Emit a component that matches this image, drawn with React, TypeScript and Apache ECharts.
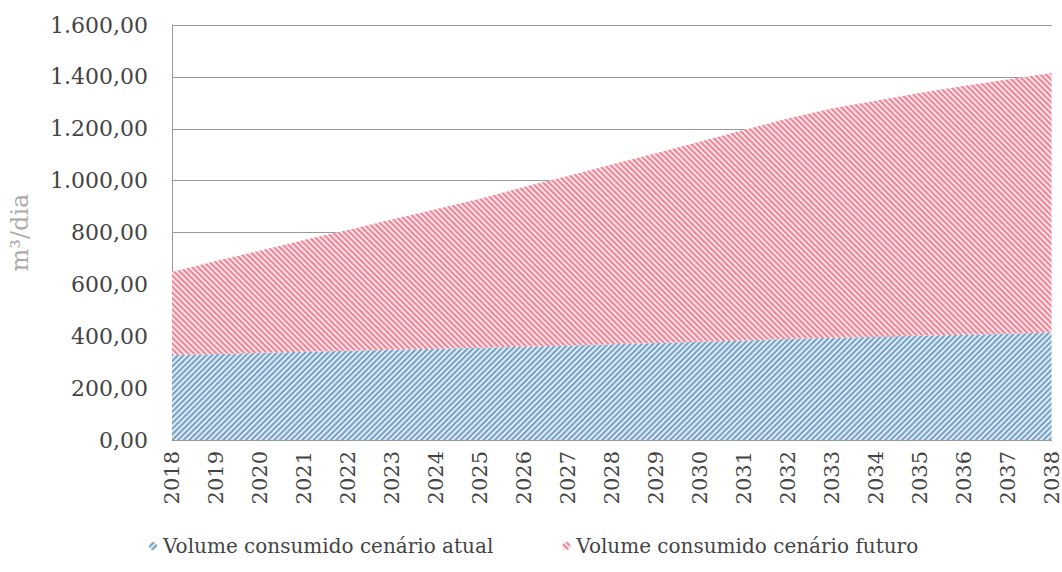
import React, { useEffect, useRef } from "react";
import * as echarts from "echarts";

const years = ["2018","2019","2020","2021","2022","2023","2024","2025","2026","2027","2028","2029","2030","2031","2032","2033","2034","2035","2036","2037","2038"];
const atual = [328,332,336,340,344,348,352,356,360,364,369,374,379,384,389,394,398,402,406,410,414];
const futuro = [320,358,394,431,466,502,538,574,615,654,693,732,771,811,851,884,910,936,959,980,1001];
const seriesNames = ["Volume consumido cenário atual", "Volume consumido cenário futuro"];
const yTicks = { min: 0, max: 1600, interval: 200 };

const FONT = "'DejaVu Serif', serif";

function fmt(v: number): string {
  const s = v.toFixed(2);
  const [i, d] = s.split(".");
  return i.replace(/\B(?=(\d{3})+(?!\d))/g, ".") + "," + d;
}

export default function App() {
  const ref = useRef<HTMLDivElement>(null);
  useEffect(() => {
    if (!ref.current) return;
    const chart = echarts.init(ref.current, undefined, { renderer: "svg" });
    chart.setOption({
      animation: false,
      backgroundColor: "#ffffff",
      grid: { left: 170, right: 10, top: 25, bottom: 132 },
      legend: {
        bottom: 11,
        left: 143,
        itemWidth: 10,
        itemHeight: 10,
        itemGap: 68,
        textStyle: { fontFamily: FONT, fontSize: 20, color: "#444" },
        data: seriesNames,
      },
      xAxis: {
        type: "category",
        data: years,
        boundaryGap: false,
        axisLine: { lineStyle: { color: "#999" } },
        axisTick: { show: false },
        axisLabel: { rotate: 90, interval: 0, margin: 11, fontFamily: FONT, fontSize: 21, color: "#444" },
      },
      yAxis: {
        type: "value",
        min: yTicks.min,
        max: yTicks.max,
        interval: yTicks.interval,
        name: "m³/dia",
        nameLocation: "middle",
        nameGap: 140,
        nameTextStyle: { fontFamily: FONT, fontSize: 24, color: "#aaa" },
        axisLine: { show: true, lineStyle: { color: "#999" } },
        axisTick: { show: false },
        splitLine: { lineStyle: { color: "#999" } },
        axisLabel: { margin: 24, fontFamily: FONT, fontSize: 22, color: "#444", formatter: (v: number) => fmt(v) },
      },
      series: [
        {
          name: seriesNames[0],
          type: "line",
          stack: "total",
          data: atual,
          symbol: "none",
          lineStyle: { width: 0 },
          areaStyle: { color: "#d9eef4", opacity: 1 },
          itemStyle: {
            color: "#d9eef4",
            decal: { symbol: "rect", symbolSize: 1, dashArrayX: [1, 0], dashArrayY: [2, 2], rotation: -Math.PI / 4, color: "#7d9fc6" },
          },
        },
        {
          name: seriesNames[1],
          type: "line",
          stack: "total",
          data: futuro,
          symbol: "none",
          lineStyle: { width: 0 },
          areaStyle: { color: "#fbe4e8", opacity: 1 },
          itemStyle: {
            color: "#fbe4e8",
            decal: { symbol: "rect", symbolSize: 1, dashArrayX: [1, 0], dashArrayY: [2, 2], rotation: Math.PI / 4, color: "#ee8597" },
          },
        },
      ],
    });
    return () => chart.dispose();
  }, []);
  return <div ref={ref} style={{ width: 1062, height: 572, position: "absolute", left: 0, top: 0 }} />;
}
